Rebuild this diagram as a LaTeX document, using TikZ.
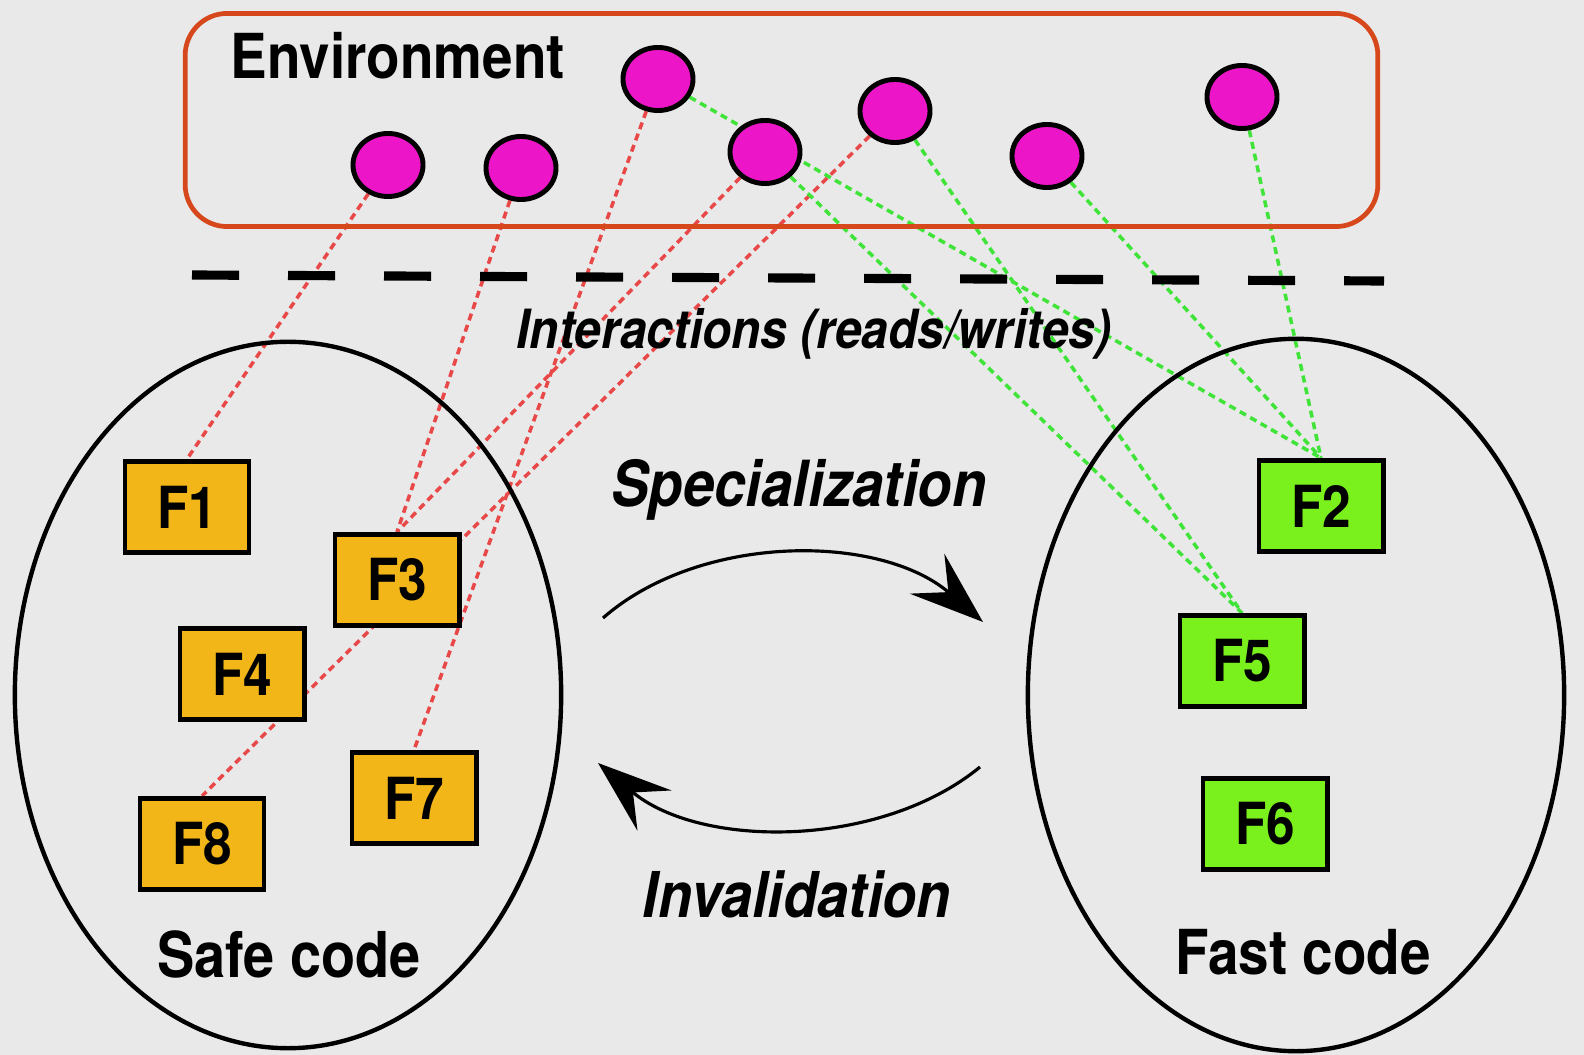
\documentclass[tikz,border=0pt]{standalone}
\usepackage{fontspec}
\setsansfont{TeX Gyre Heros}
\usetikzlibrary{shapes.geometric,arrows.meta}
\definecolor{bggrau}{RGB}{233,233,233}
\definecolor{envrot}{RGB}{214,72,28}
\definecolor{wertmag}{RGB}{236,22,200}
\definecolor{safeorange}{RGB}{242,182,24}
\definecolor{fastgruen}{RGB}{122,240,28}
\definecolor{lesrot}{RGB}{232,72,72}
\definecolor{lesgruen}{RGB}{64,228,56}
\pgfdeclarelayer{hinten}
\pgfdeclarelayer{linien}
\pgfsetlayers{hinten,linien,main}

\begin{document}
\begin{tikzpicture}[
  x=0.01cm, y=-0.01cm, % 1 Einheit = 1 Pixel, y nach unten
  every node/.style={font=\sffamily\bfseries},
  gross/.style={yscale=1.13, inner sep=0pt},
  wert/.style={ellipse, draw, line width=1.4pt, fill=wertmag,
    minimum width=0.7cm, minimum height=0.63cm, inner sep=0pt},
  safebox/.style={rectangle, draw, line width=1.4pt, fill=safeorange,
    minimum width=1.24cm, minimum height=0.8cm, inner sep=0pt, gross,
    font=\sffamily\bfseries\fontsize{14.6}{16}\selectfont},
  fastbox/.style={safebox, fill=fastgruen},
  bereich/.style={ellipse, draw, line width=1.25pt, inner sep=0pt},
  rotlinie/.style={lesrot, line width=1pt, dash pattern=on 2pt off 1.4pt},
  gruenlinie/.style={lesgruen, line width=1pt, dash pattern=on 2pt off 1.4pt},
  pfeil/.style={line width=0.9pt, -{Stealth[length=21pt,width=15pt,inset=8pt]}}
  ]
\useasboundingbox (0,0) rectangle (1584,1055);
\begin{pgfonlayer}{hinten}
  \fill[bggrau] (0,0) rectangle (1584,1055);
\end{pgfonlayer}
% Umgebung
\node[draw=envrot, line width=1.35pt, rounded corners=0.42cm,
  minimum width=11.92cm, minimum height=2.13cm, inner sep=0pt] (env) at (781.5,120) {};
\node[gross, anchor=base west, font=\sffamily\bfseries\fontsize{15.6}{18}\selectfont]
  (envtxt) at (230,79) {Environment};
\node[wert] (e1) at (388,165) {};
\node[wert] (e2) at (521,168) {};
\node[wert] (e3) at (658,79) {};
\node[wert] (e4) at (765,152) {};
\node[wert] (e5) at (895,111) {};
\node[wert] (e6) at (1047,156) {};
\node[wert] (e7) at (1242,97) {};
% Trennlinie
\draw[line width=2.6pt, dash pattern=on 13.4pt off 13.9pt] (192,275) -- (1384,281);
\node[gross, anchor=base, font=\sffamily\bfseries\itshape\fontsize{13.6}{16}\selectfont]
  (rwtxt) at (814,349) {Interactions (reads/writes)};
% Code-Bereiche
\node[bereich, minimum width=5.46cm, minimum height=7.06cm] (safe) at (288,695) {};
\node[bereich, minimum width=5.36cm, minimum height=7.12cm] (fast) at (1296,695) {};
\node[gross, anchor=base, font=\sffamily\bfseries\fontsize{15.9}{18}\selectfont]
  (safetxt) at (289,978) {Safe code};
\node[gross, anchor=base, font=\sffamily\bfseries\fontsize{15.6}{18}\selectfont]
  (fasttxt) at (1303,975) {Fast code};
\node[safebox] (f1) at (187,507) {F1};
\node[safebox] (f3) at (397,580) {F3};
\node[safebox] (f4) at (242,674) {F4};
\node[safebox] (f8) at (202,844) {F8};
\node[safebox] (f7) at (414,798) {F7};
\node[fastbox] (f2) at (1321,506) {F2};
\node[fastbox] (f5) at (1242,661) {F5};
\node[fastbox] (f6) at (1265,824) {F6};
% Pfeile
\node[gross, anchor=base, font=\sffamily\bfseries\itshape\fontsize{16}{18}\selectfont]
  (spectxt) at (799,507) {Specialization};
\node[gross, anchor=base, font=\sffamily\bfseries\itshape\fontsize{15.9}{18}\selectfont]
  (invtxt) at (797,917) {Invalidation};
\coordinate (spa) at (603,618);
\coordinate (spb) at (983,622);
\coordinate (inva) at (980,767);
\coordinate (invb) at (598,763);
\draw[pfeil] (spa) .. controls (700,533) and (880,533) .. (spb);
\draw[pfeil] (inva) .. controls (880,849) and (700,849) .. (invb);
% Lese-/Schreibzugriffe
\begin{pgfonlayer}{linien}
  \draw[rotlinie] (e1) -- (f1.north);
  \draw[rotlinie] (e2) -- (f3.north);
  \draw[rotlinie] (e3) -- (f7.north);
  \draw[rotlinie] (e4) -- (f3.north);
  \draw[rotlinie] (e5) -- (f8.north);
  \draw[gruenlinie] (e3) -- (f2.north);
  \draw[gruenlinie] (e6) -- (f2.north);
  \draw[gruenlinie] (e7) -- (f2.north);
  \draw[gruenlinie] (e4) -- (f5.north);
  \draw[gruenlinie] (e5) -- (f5.north);
\end{pgfonlayer}
\end{tikzpicture}
\end{document}
